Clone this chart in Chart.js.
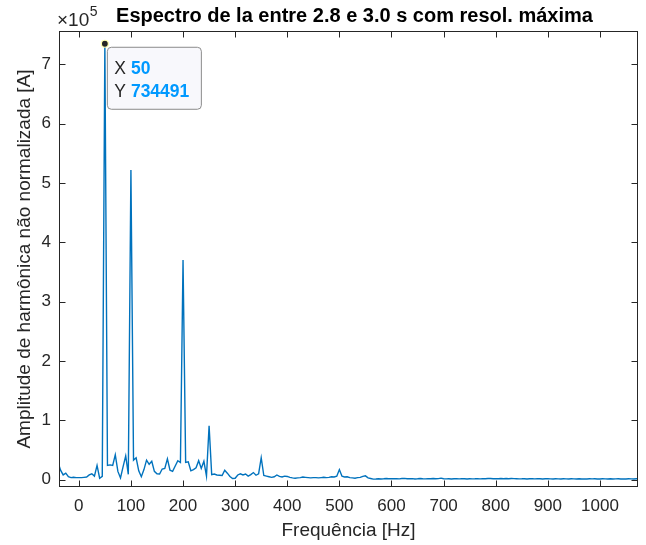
<!DOCTYPE html>
<html>
<head>
<meta charset="utf-8">
<title>Espectro</title>
<script src="https://cdn.jsdelivr.net/npm/chart.js@4.4.1/dist/chart.umd.min.js"></script>
<style>
  html, body { margin: 0; padding: 0; background: #fff; }
  #wrap { width: 646px; height: 545px; }
</style>
</head>
<body>
<div id="wrap"><canvas id="spec" width="646" height="545"></canvas></div>
<script>
/* ---------- DATA ---------- */
// FFT bins, 5 Hz resolution (0.2 s window), first bin at -40 Hz
const freqStart = -40;
const freqStep = 5;
const amps = [
  30000, 16000, 8000, 11000, 5000, 3500, 4000, 3500, 3500, 3500,
  4000, 4500, 8000, 10000, 6000, 24000, 2500, 5500, 734491, 24000,
  25000, 24000, 42000, 14000, 3000, 22000, 40000, 9000, 522000, 33000,
  37000, 15000, 5000, 17000, 33000, 26000, 31000, 14000, 10000, 9500,
  18000, 19000, 35000, 16000, 14000, 23000, 32000, 29000, 370000, 29000,
  30000, 15000, 17000, 20000, 32000, 19000, 31000, 6000, 91000, 8500,
  9500, 8000, 7500, 7000, 16000, 11000, 5500, 2000, 2500, 8000,
  10000, 8000, 9500, 6000, 8500, 12000, 7500, 10000, 37000, 7000,
  6000, 5000, 4000, 5000, 8000, 5500, 4500, 6000, 5500, 4000,
  3000, 2500, 3000, 3500, 4500, 4000, 3500, 3000, 3500, 3500,
  3000, 3500, 4000, 3500, 4000, 5000, 4500, 6000, 17000, 6000,
  4500, 5000, 3500, 3000, 2500, 3500, 4000, 5500, 6500, 3000,
  2000, 1000, 1200, 1500, 1300, 1500, 2000, 1500, 1800, 1500,
  1700, 1400, 1900, 2200, 1600, 1500, 1800, 1300, 1600, 2000,
  1500, 1400, 1700, 1600, 1900, 1500, 1800, 2600, 1700, 1400,
  1500, 1300, 1600, 1500, 1400, 1700, 1500, 1300, 1600, 1400,
  1500, 1700, 1400, 1600, 1500, 1900, 2100, 1600, 1800, 1500,
  2000, 1700, 1900, 1500, 2100, 1800, 1600, 1400, 1500, 1700,
  1300, 1500, 1600, 1400, 1700, 1500, 1300, 1600, 1500, 1400,
  1300, 1500, 1400, 1200, 1600, 1400, 1300, 1500, 1400, 1300,
  1500, 1200, 1400, 1300, 1500, 1400, 1600, 1300, 1200, 1500,
  1400, 1300, 1500, 1200, 1400, 1600, 1300, 1400, 1200, 1500,
  1400, 1300, 1500, 1300
];
const xTicks = [0, 100, 200, 300, 400, 500, 600, 700, 800, 900, 1000];
const yTicks = [0, 100000, 200000, 300000, 400000, 500000, 600000, 700000];
const tipFreq = 50;

/* ---------- STYLE ---------- */
const AX = "#262626";
const LINE = "#0072BD";
const TIPBLUE = "#0099FF";
const FONT = "'Liberation Sans', Arial, Helvetica, sans-serif";

const points = amps.map((a, i) => ({ x: freqStart + i * freqStep, y: a }));
const tipPoint = points.find(p => p.x === tipFreq);

/* ---------- AXES BOX, INNER TICKS, TITLE, DATATIP ---------- */
const matlabAxes = {
  id: "matlabAxes",
  afterDatasetsDraw(chart) {
    const { ctx, chartArea: a, scales: { x, y } } = chart;
    const tl = 6;
    const seg = (x1, y1, x2, y2) => {
      ctx.beginPath(); ctx.moveTo(x1, y1); ctx.lineTo(x2, y2); ctx.stroke();
    };

    ctx.save();
    ctx.strokeStyle = AX;
    ctx.lineWidth = 1;

    // box
    const L = a.left + 0.5, R = a.right - 0.5, T = a.top + 0.5, B = a.bottom - 0.5;
    ctx.strokeRect(L, T, R - L, B - T);

    // ticks pointing inside, on all four sides
    xTicks.forEach(v => {
      const px = Math.round(x.getPixelForValue(v)) + 0.5;
      seg(px, B, px, B - tl);
      seg(px, T, px, T + tl);
    });
    yTicks.forEach(v => {
      const py = Math.round(y.getPixelForValue(v)) + 0.5;
      seg(L, py, L + tl, py);
      seg(R, py, R - tl, py);
    });

    // exponent label
    ctx.fillStyle = AX;
    ctx.textBaseline = "alphabetic";
    ctx.textAlign = "left";
    ctx.font = `19px ${FONT}`;
    ctx.fillText("×10", a.left - 2, a.top - 5);
    const w = ctx.measureText("×10").width;
    ctx.font = `14px ${FONT}`;
    ctx.fillText("5", a.left - 2 + w + 0.5, a.top - 15);

    // title
    ctx.font = `bold 20px ${FONT}`;
    ctx.textAlign = "center";
    ctx.textBaseline = "middle";
    ctx.fillStyle = "#000";
    ctx.fillText("Espectro de la entre 2.8 e 3.0 s com resol. máxima", (a.left + a.right) / 2 + 6, 16);

    // datatip
    const tx = x.getPixelForValue(tipPoint.x);
    const ty = y.getPixelForValue(tipPoint.y);
    const bx = tx + 2.5, by = ty + 3.5, bw = 94, bh = 62;
    ctx.beginPath();
    ctx.roundRect(bx, by, bw, bh, 4);
    ctx.fillStyle = "#f8f8fc";
    ctx.fill();
    ctx.strokeStyle = "#8c8c8c";
    ctx.stroke();

    ctx.textAlign = "left";
    ctx.textBaseline = "middle";
    const rows = [["X", String(tipPoint.x)], ["Y", String(tipPoint.y)]];
    rows.forEach(([k, v], i) => {
      const ly = by + 22 + i * 23;
      ctx.font = `17.5px ${FONT}`;
      ctx.fillStyle = AX;
      ctx.fillText(k, bx + 7, ly);
      const kw = ctx.measureText(k + " ").width;
      ctx.font = `bold 17.5px ${FONT}`;
      ctx.fillStyle = TIPBLUE;
      ctx.fillText(v, bx + 7 + kw, ly);
    });

    ctx.beginPath();
    ctx.arc(tx, ty, 3.5, 0, Math.PI * 2);
    ctx.fillStyle = AX;
    ctx.fill();
    ctx.strokeStyle = "#ffffb0";
    ctx.lineWidth = 1.2;
    ctx.stroke();

    ctx.restore();
  }
};

/* ---------- CHART ---------- */
new Chart(document.getElementById("spec"), {
  type: "line",
  data: {
    datasets: [{
      data: points,
      borderColor: LINE,
      borderWidth: 1.4,
      pointRadius: 0,
      tension: 0,
      clip: 0
    }]
  },
  options: {
    responsive: false,
    animation: false,
    devicePixelRatio: 1,
    layout: { padding: { top: 31, right: 8, left: 0, bottom: 0 } },
    plugins: {
      legend: { display: false },
      tooltip: { enabled: false },
      title: { display: false }
    },
    scales: {
      x: {
        type: "linear",
        min: -38,
        max: 1073,
        afterBuildTicks: s => { s.ticks = xTicks.map(v => ({ value: v })); },
        afterFit: s => { s.height = 58; },
        grid: { display: false, drawTicks: false },
        border: { display: false },
        ticks: {
          color: AX,
          font: { family: FONT, size: 17 },
          padding: 9,
          maxRotation: 0,
          autoSkip: false,
          callback: v => String(v)
        },
        title: {
          display: true,
          text: "Frequência [Hz]",
          color: AX,
          font: { family: FONT, size: 19 },
          padding: { top: 0, bottom: 3 }
        }
      },
      y: {
        type: "linear",
        min: -12300,
        max: 756000,
        afterBuildTicks: s => { s.ticks = yTicks.map(v => ({ value: v })); },
        afterFit: s => { s.width = 59; },
        grid: { display: false, drawTicks: false },
        border: { display: false },
        ticks: {
          color: AX,
          font: { family: FONT, size: 17 },
          padding: 8,
          callback: v => String(v / 100000)
        },
        title: {
          display: true,
          text: "Amplitude de harmônica não normalizada [A]",
          color: AX,
          font: { family: FONT, size: 19 },
          padding: { top: 13, bottom: 0 }
        }
      }
    }
  },
  plugins: [matlabAxes]
});
</script>
</body>
</html>
